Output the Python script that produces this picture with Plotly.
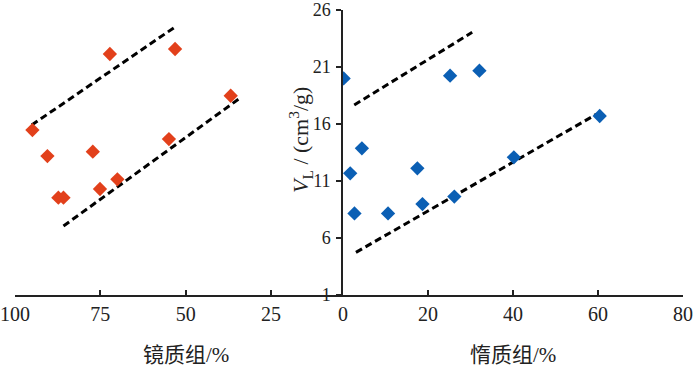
import plotly.graph_objects as go

# Left panel: vitrinite (镜质组) %
vit_x = [94.9, 90.5, 87.3, 85.8, 77.2, 75.1, 72.2, 70.0, 54.9, 53.1, 36.8]
vit_y = [15.47, 13.19, 9.54, 9.54, 13.57, 10.3, 22.14, 11.15, 14.68, 22.58, 18.48]
vit_up_x = [95.1, 53.4]
vit_up_y = [15.91, 24.45]
vit_lo_x = [85.8, 34.4]
vit_lo_y = [7.05, 18.2]

# Right panel: inertinite (惰质组) %
ine_x = [0.15, 1.7, 2.7, 4.45, 10.6, 17.5, 18.7, 25.2, 26.2, 32.1, 40.2, 60.4]
ine_y = [20.0, 11.67, 8.16, 13.87, 8.16, 12.11, 8.98, 20.24, 9.63, 20.68, 13.08, 16.7]
ine_up_x = [2.65, 30.4]
ine_up_y = [17.67, 24.04]
ine_lo_x = [3.05, 59.6]
ine_lo_y = [4.74, 16.85]

left_ticks = [100, 75, 50, 25]
right_ticks = [0, 20, 40, 60, 80]
y_ticks = [1, 6, 11, 16, 21, 26]

RED = "#e2401b"
BLUE = "#0b5fb4"
FONT = "'Liberation Serif', 'Noto Sans CJK SC', serif"
dash_line = dict(color="black", width=3, dash="7px,4px")

fig = go.Figure()
fig.add_trace(go.Scatter(x=vit_up_x, y=vit_up_y, mode="lines", line=dash_line,
                         xaxis="x", yaxis="y", showlegend=False))
fig.add_trace(go.Scatter(x=vit_lo_x, y=vit_lo_y, mode="lines", line=dash_line,
                         xaxis="x", yaxis="y", showlegend=False))
fig.add_trace(go.Scatter(x=vit_x, y=vit_y, mode="markers",
                         marker=dict(symbol="diamond", size=11, color=RED),
                         xaxis="x", yaxis="y", showlegend=False))
fig.add_trace(go.Scatter(x=ine_up_x, y=ine_up_y, mode="lines", line=dash_line,
                         xaxis="x2", yaxis="y", showlegend=False))
fig.add_trace(go.Scatter(x=ine_lo_x, y=ine_lo_y, mode="lines", line=dash_line,
                         xaxis="x2", yaxis="y", showlegend=False))
fig.add_trace(go.Scatter(x=ine_x, y=ine_y, mode="markers",
                         marker=dict(symbol="diamond", size=11, color=BLUE),
                         xaxis="x2", yaxis="y", showlegend=False))

split = 0.491
axis_common = dict(showline=True, linecolor="#222", linewidth=1.5,
                   showgrid=False, zeroline=False, automargin=False,
                   tickwidth=1.5, tickcolor="#222", ticklen=5)
xtickfont = dict(family=FONT, size=20, color="#222")
ytickfont = dict(family=FONT, size=18, color="#222")
fig.update_layout(
    width=694, height=367, autosize=False,
    margin=dict(l=15, r=11, t=10, b=72, pad=0),
    paper_bgcolor="white", plot_bgcolor="white",
    font=dict(family=FONT, size=18, color="#222"),
    xaxis=dict(domain=[0, split], range=[100, 3.9], tickvals=left_ticks,
               ticks="inside", anchor="y", tickfont=xtickfont, **axis_common),
    xaxis2=dict(domain=[split, 1], range=[0, 80], tickvals=right_ticks,
                ticks="inside", anchor="y", tickfont=xtickfont, **axis_common),
    yaxis=dict(range=[1, 26], tickvals=y_ticks, anchor="x2", side="left",
               ticks="outside", ticklabelstandoff=2, tickfont=ytickfont,
               **axis_common),
    annotations=[
        dict(text="镜质组/%", x=50, y=0, xref="x", yref="paper",
             xanchor="center", yanchor="middle", yshift=-60, showarrow=False,
             font=dict(family=FONT, size=21, color="#222")),
        dict(text="惰质组/%", x=40, y=0, xref="x2", yref="paper",
             xanchor="center", yanchor="middle", yshift=-60, showarrow=False,
             font=dict(family=FONT, size=21, color="#222")),
        dict(text="<i>V</i><sub>L</sub> / (cm<sup>3</sup>/g)", x=0, y=14.6,
             xref="x2", yref="y", xanchor="center", yanchor="middle",
             xshift=-42, textangle=-90, showarrow=False,
             font=dict(family=FONT, size=22, color="#222")),
    ],
)

fig.write_html("out.html", config={"displayModeBar": False},
               post_script="document.body.style.margin='0';document.body.style.padding='0';")
